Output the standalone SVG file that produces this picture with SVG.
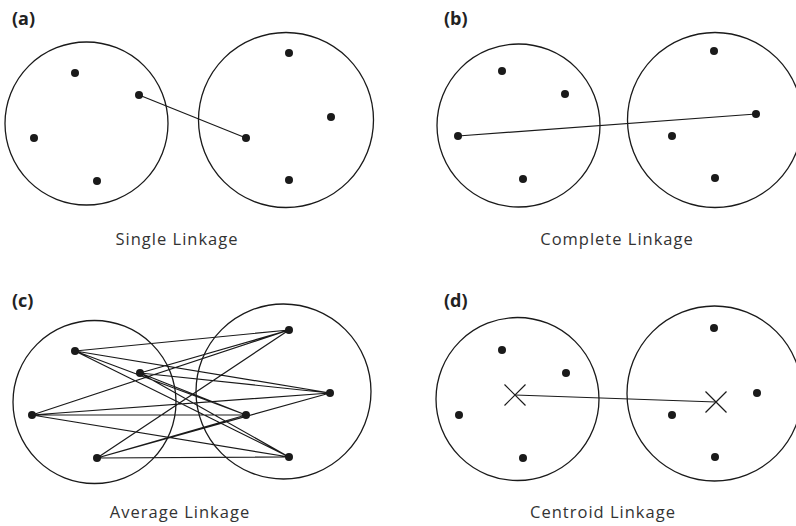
<svg xmlns="http://www.w3.org/2000/svg" width="796" height="526" viewBox="0 0 796 526">
<style>
.c{fill:none;stroke:#1a1a1a;stroke-width:1.3}
.d{fill:#1a1a1a}
.l{stroke:#1a1a1a;stroke-width:1.2;fill:none}
.t{font-family:"Open Sans","Noto Sans",sans-serif;font-size:16.5px;letter-spacing:1px;fill:#333}
.h{font-family:"Open Sans","Noto Sans",sans-serif;font-size:18px;font-weight:bold;fill:#222}
</style>
<rect width="796" height="526" fill="#fff"/>
<g id="panel-a">
  <text class="h" x="12" y="25">(a)</text>
  <g id="a-left"><circle class="c" cx="86.5" cy="123.5" r="81.5"/></g>
  <g id="a-right"><circle class="c" cx="286" cy="120" r="87.5"/></g>
  <g id="a-conn"><line class="l" x1="139" y1="95" x2="246" y2="138"/></g>
  <g id="a-points">
    <circle class="d" cx="75" cy="73" r="4"/><circle class="d" cx="139" cy="95" r="4"/><circle class="d" cx="34" cy="138" r="4"/><circle class="d" cx="97" cy="181" r="4"/>
    <circle class="d" cx="289" cy="53" r="4"/><circle class="d" cx="331" cy="117" r="4"/><circle class="d" cx="246" cy="138" r="4"/><circle class="d" cx="289" cy="180" r="4"/>
  </g>
  <text class="t" x="177" y="245" text-anchor="middle">Single Linkage</text>
</g>
<g id="panel-b">
  <text class="h" x="444" y="25">(b)</text>
  <g id="b-left"><circle class="c" cx="518.5" cy="125.5" r="81.5"/></g>
  <g id="b-right"><circle class="c" cx="715" cy="120" r="87.5"/></g>
  <g id="b-conn"><line class="l" x1="458" y1="136" x2="756" y2="114"/></g>
  <g id="b-points">
    <circle class="d" cx="502" cy="71" r="4"/><circle class="d" cx="565" cy="94" r="4"/><circle class="d" cx="458" cy="136" r="4"/><circle class="d" cx="523" cy="179" r="4"/>
    <circle class="d" cx="714" cy="51" r="4"/><circle class="d" cx="756" cy="114" r="4"/><circle class="d" cx="672" cy="136" r="4"/><circle class="d" cx="715" cy="178" r="4"/>
  </g>
  <text class="t" x="617" y="245" text-anchor="middle">Complete Linkage</text>
</g>
<g id="panel-c">
  <text class="h" x="12" y="307">(c)</text>
  <g id="c-left"><circle class="c" cx="94.5" cy="402" r="81.5"/></g>
  <g id="c-right"><circle class="c" cx="283.5" cy="391.5" r="87.5"/></g>
  <g id="c-conn">
    <path class="l" d="M75 351L289 330M75 351L330 393M75 351L246 415M75 351L289 457
    M140 373L289 330M140 373L330 393M140 373L246 415M140 373L289 457
    M32 415L289 330M32 415L330 393M32 415L246 415M32 415L289 457
    M97 458L289 330M97 458L330 393M97 458L246 415M97 458L289 457"/>
  </g>
  <g id="c-points">
    <circle class="d" cx="75" cy="351" r="4"/><circle class="d" cx="140" cy="373" r="4"/><circle class="d" cx="32" cy="415" r="4"/><circle class="d" cx="97" cy="458" r="4"/>
    <circle class="d" cx="289" cy="330" r="4"/><circle class="d" cx="330" cy="393" r="4"/><circle class="d" cx="246" cy="415" r="4"/><circle class="d" cx="289" cy="457" r="4"/>
  </g>
  <text class="t" x="180" y="518" text-anchor="middle">Average Linkage</text>
</g>
<g id="panel-d">
  <text class="h" x="444" y="307">(d)</text>
  <g id="d-left"><circle class="c" cx="517.5" cy="399" r="81.5"/></g>
  <g id="d-right"><circle class="c" cx="714.5" cy="393.5" r="87.5"/></g>
  <g id="d-conn"><line class="l" x1="515" y1="395" x2="716" y2="402"/></g>
  <g id="d-centroids">
    <path class="l" d="M504.5 384.5L525.5 405.5M525.5 384.5L504.5 405.5"/>
    <path class="l" d="M705.5 391.5L726.5 412.5M726.5 391.5L705.5 412.5"/>
  </g>
  <g id="d-points">
    <circle class="d" cx="502" cy="350" r="4"/><circle class="d" cx="566" cy="373" r="4"/><circle class="d" cx="459" cy="415" r="4"/><circle class="d" cx="523" cy="458" r="4"/>
    <circle class="d" cx="714" cy="328" r="4"/><circle class="d" cx="757" cy="393" r="4"/><circle class="d" cx="672" cy="415" r="4"/><circle class="d" cx="715" cy="457" r="4"/>
  </g>
  <text class="t" x="603" y="518" text-anchor="middle">Centroid Linkage</text>
</g>
</svg>
